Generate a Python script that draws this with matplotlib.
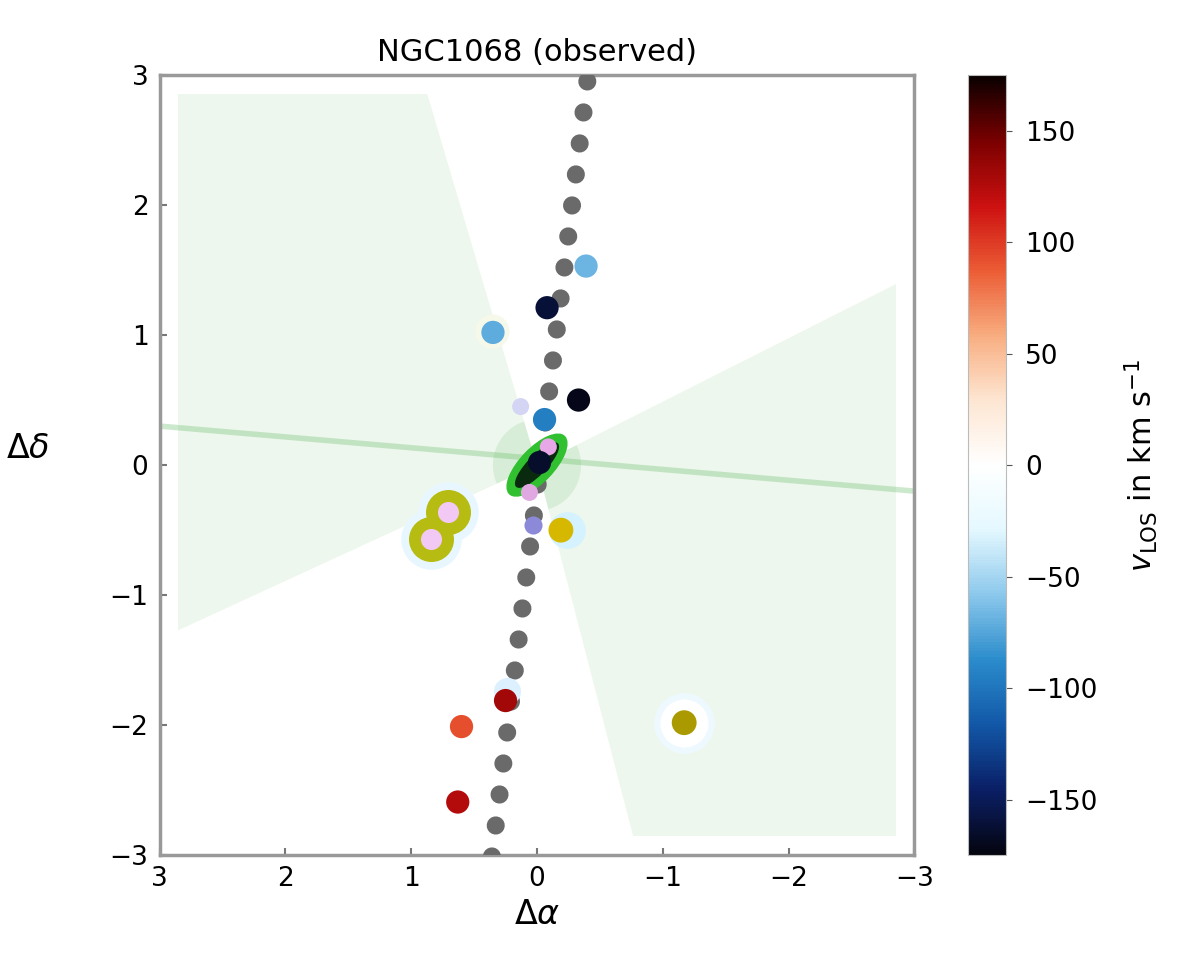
import numpy as np
import matplotlib
matplotlib.use("Agg")
import matplotlib.pyplot as plt
from matplotlib.colors import LinearSegmentedColormap, Normalize
from matplotlib.patches import Polygon, Rectangle, Ellipse

# --- data ---
# velocity-coloured clumps (offsets in arcsec, velocity in km/s)
vel_x = [-0.39, -0.08, 0.35, -0.33, -0.06, -0.02, 0.25, 0.60, 0.63]
vel_y = [1.53, 1.21, 1.02, 0.50, 0.35, 0.02, -1.81, -2.01, -2.59]
vel_v = [-68, -160, -72, -172, -95, -165, 130, 92, 125]

# other components
gold_x = [-0.19, -1.17]
gold_y = [-0.50, -1.98]
gold_c = ["#d6b800", "#aa9a00"]
pair_x = [0.71, 0.84]
pair_y = [-0.36, -0.57]
pink_x = [-0.09, 0.06, 0.13]
pink_y = [0.14, -0.21, 0.45]
lav_x = [0.03]
lav_y = [-0.46]

# jet axis (dotted) and cone axis
jet_x = [-0.40, 0.37]
jet_y = [2.95, -3.10]
cone_axis_x = [3.0, -3.0]
cone_axis_y = [0.30, -0.20]

# bicone opening (deg, counter-clockwise from +x in data coords)
cone_left = (-24, 73)
cone_right = (154, 255)
cone_box = 2.85

ticks = [3, 2, 1, 0, -1, -2, -3]
cbar_ticks = [150, 100, 50, 0, -50, -100, -150]

cmap = LinearSegmentedColormap.from_list("vel", [
    "#050510", "#0a1f66", "#1258a8", "#2b8ccc", "#8cc8ec", "#e4f8ff",
    "#ffffff",
    "#fde6d2", "#f8ad80", "#ec5c35", "#cc1010", "#7a0000", "#0a0000"])
norm = Normalize(vmin=-175, vmax=175)

fig = plt.figure(figsize=(12, 9.72), dpi=100)
ax = fig.add_axes([0.133, 0.120, 0.629, 0.803])
cax = fig.add_axes([0.807, 0.120, 0.031, 0.803])

clip = Rectangle((-cone_box, -cone_box), 2 * cone_box, 2 * cone_box,
                 transform=ax.transData, visible=False)
ax.add_patch(clip)


def wedge(a0, a1, r, alpha):
    t = np.radians(np.linspace(a0, a1, 60))
    pts = np.vstack([[0, 0], np.column_stack([r * np.cos(t), r * np.sin(t)])])
    p = Polygon(pts, closed=True, facecolor="#3aa83a", edgecolor="none",
                alpha=alpha, zorder=1)
    ax.add_patch(p)
    p.set_clip_path(clip)


for a0, a1 in (cone_left, cone_right):
    wedge(a0, a1, 6, 0.09)
    wedge(a0, a1, 0.35, 0.12)
ax.plot(cone_axis_x, cone_axis_y, color="#5cb85c", lw=4, alpha=0.3, zorder=2,
        solid_capstyle="butt")

# jet axis
ax.plot(jet_x, jet_y, color="#6a6a6a", lw=13, linestyle=(0, (0.01, 1.72)),
        dash_capstyle="round", zorder=3)

# halos
ax.scatter([-1.17], [-1.98], s=1900, color="#eef9ff", zorder=4, lw=0)
ax.scatter([-1.17], [-1.98], s=1200, color="white", zorder=4, lw=0)
ax.scatter([-0.24], [-0.50], s=700, color="#d4f2ff", zorder=4, lw=0)
ax.scatter(pair_x, pair_y, s=1900, color="#e8f7ff", zorder=4, lw=0)
ax.scatter([0.36], [1.03], s=600, color="#f6f9ea", zorder=4, lw=0)
ax.scatter([0.24], [-1.74], s=380, color="#dcf0ff", zorder=4, lw=0)

# centre marker
ax.add_patch(Ellipse((0.0, 0.0), 0.62, 0.26, angle=-45, color="#30c030", zorder=5))
ax.add_patch(Ellipse((0.0, 0.0), 0.46, 0.14, angle=-45, color="#0a2a10", zorder=5))

# olive pair with pink centres
ax.scatter(pair_x, pair_y, s=1050, color="#b6bc12", zorder=6, lw=0)
ax.scatter(pair_x, pair_y, s=230, color="#f2c8f4", zorder=7, lw=0)

# small pink / lavender clumps
ax.scatter(pink_x, pink_y, s=150, color=["#e8a8e8", "#e0a8e0", "#d4d4f4"],
           zorder=6, lw=0)
ax.scatter(lav_x, lav_y, s=170, color="#8c8ad8", zorder=6, lw=0)

# gold clumps
ax.scatter(gold_x, gold_y, s=320, color=gold_c, zorder=6, lw=0)

# velocity-coloured clumps
ax.scatter(vel_x, vel_y, c=vel_v, cmap=cmap, norm=norm, s=280, zorder=7, lw=0)

ax.set_xlim(3, -3)
ax.set_ylim(-3, 3)
ax.set_xticks(ticks)
ax.set_yticks(ticks)
ax.tick_params(direction="in", length=5, width=1.5, color="#777777",
               labelsize=19, pad=8)
for sp in ax.spines.values():
    sp.set_color("#999999")
    sp.set_linewidth(2.5)
ax.set_xlabel(r"$\Delta\alpha$", fontsize=24)
ax.set_ylabel(r"$\Delta\delta$", fontsize=24, rotation=0)
ax.yaxis.set_label_coords(-0.175, 0.5)
ax.set_title("NGC1068 (observed)", fontsize=22, pad=10)

sm = plt.cm.ScalarMappable(cmap=cmap, norm=norm)
cb = fig.colorbar(sm, cax=cax, ticks=cbar_ticks)
cb.outline.set_edgecolor("#bbbbbb")
cb.ax.tick_params(labelsize=19, length=4, color="#555555", pad=10)
cb.set_label(r"$v_{\rm LOS}$ in km s$^{-1}$", fontsize=22, labelpad=18)

fig.savefig("out.png", dpi=100)
